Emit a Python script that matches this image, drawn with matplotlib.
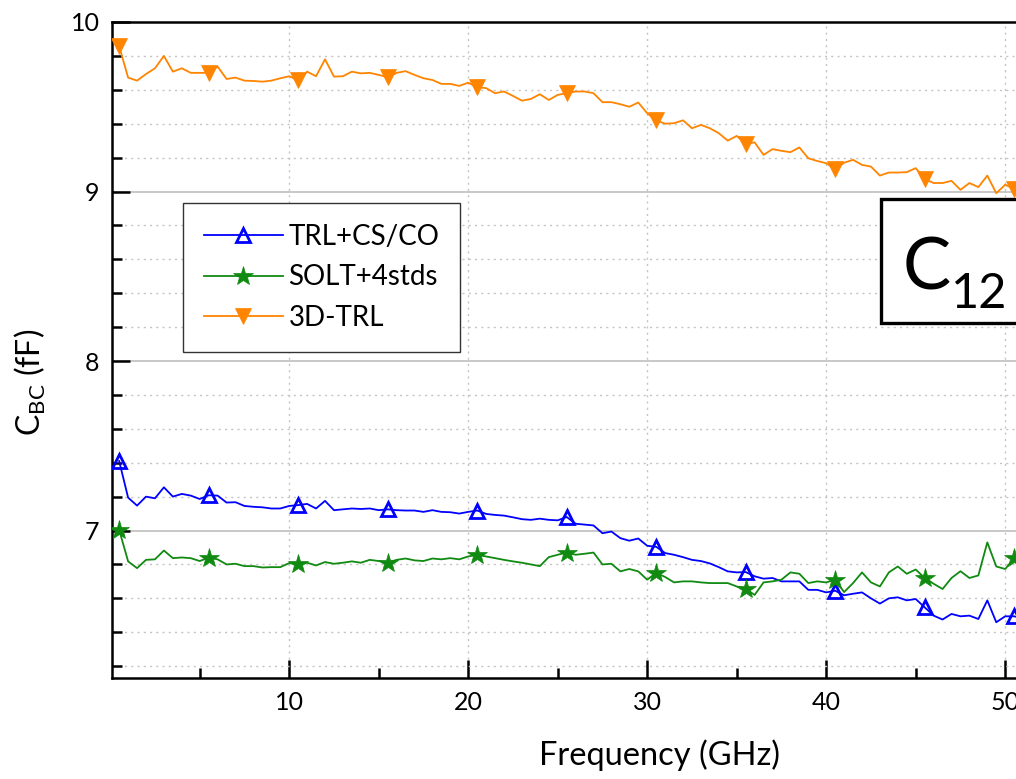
"""C_BC vs frequency for three calibration methods (C12 panel)."""

import matplotlib

matplotlib.use("Agg")
import matplotlib.pyplot as plt
import numpy as np
from matplotlib.patches import Rectangle
from matplotlib.ticker import MultipleLocator

TEXT = "#000000"
GRID = "#C4C4C4"
BLUE = "#0000FF"
GREEN = "#108A10"
ORANGE = "#FF8400"

# sweep from 0.5 GHz in 0.5 GHz steps
freq_ghz = np.arange(0.5, 51.01, 0.5)

trl_cs_co = [
    7.41, 7.194, 7.147, 7.20, 7.19, 7.255, 7.20, 7.216, 7.206, 7.186,
    7.208, 7.206, 7.165, 7.167, 7.145, 7.14, 7.137, 7.13, 7.13, 7.145,
    7.15, 7.157, 7.13, 7.175, 7.12, 7.125, 7.13, 7.127, 7.13, 7.12,
    7.125, 7.12, 7.118, 7.118, 7.11, 7.12, 7.11, 7.108, 7.10, 7.11,
    7.118, 7.098, 7.092, 7.088, 7.078, 7.067, 7.063, 7.07, 7.063, 7.06,
    7.08, 7.04, 7.035, 7.03, 6.984, 6.994, 6.955, 6.94, 6.953, 6.91,
    6.904, 6.867, 6.857, 6.843, 6.827, 6.82, 6.806, 6.784, 6.759, 6.753,
    6.755, 6.73, 6.716, 6.72, 6.70, 6.70, 6.70, 6.65, 6.65, 6.635,
    6.645, 6.618, 6.627, 6.635, 6.60, 6.569, 6.60, 6.606, 6.588, 6.596,
    6.547, 6.498, 6.475, 6.508, 6.494, 6.498, 6.478, 6.588, 6.459, 6.494,
    6.494, 6.48,
]

solt_4stds = [
    7.004, 6.818, 6.778, 6.827, 6.83, 6.882, 6.837, 6.841, 6.837, 6.82,
    6.84, 6.83, 6.80, 6.804, 6.79, 6.79, 6.782, 6.784, 6.784, 6.808,
    6.80, 6.81, 6.794, 6.814, 6.804, 6.81, 6.818, 6.81, 6.827, 6.82,
    6.81, 6.827, 6.835, 6.824, 6.82, 6.835, 6.83, 6.837, 6.83, 6.847,
    6.857, 6.847, 6.837, 6.827, 6.818, 6.81, 6.80, 6.79, 6.843, 6.857,
    6.87, 6.857, 6.863, 6.87, 6.80, 6.804, 6.759, 6.773, 6.759, 6.71,
    6.75, 6.726, 6.694, 6.70, 6.70, 6.694, 6.69, 6.69, 6.69, 6.67,
    6.655, 6.62, 6.694, 6.70, 6.71, 6.753, 6.745, 6.69, 6.70, 6.694,
    6.71, 6.637, 6.69, 6.753, 6.694, 6.67, 6.753, 6.788, 6.745, 6.77,
    6.72, 6.686, 6.655, 6.72, 6.76, 6.72, 6.735, 6.93, 6.788, 6.773,
    6.837, 6.82,
]

trl_3d = [
    9.857, 9.672, 9.654, 9.693, 9.727, 9.80, 9.707, 9.727, 9.70, 9.70,
    9.70, 9.737, 9.664, 9.672, 9.654, 9.652, 9.648, 9.654, 9.668, 9.68,
    9.656, 9.707, 9.68, 9.78, 9.678, 9.68, 9.707, 9.697, 9.70, 9.688,
    9.674, 9.70, 9.71, 9.688, 9.668, 9.658, 9.635, 9.635, 9.623, 9.642,
    9.615, 9.61, 9.58, 9.59, 9.564, 9.536, 9.546, 9.574, 9.54, 9.57,
    9.58, 9.59, 9.59, 9.58, 9.527, 9.527, 9.515, 9.50, 9.525, 9.462,
    9.42, 9.40, 9.403, 9.42, 9.373, 9.393, 9.373, 9.344, 9.30, 9.328,
    9.28, 9.29, 9.216, 9.25, 9.24, 9.232, 9.26, 9.196, 9.18, 9.167,
    9.13, 9.17, 9.187, 9.157, 9.147, 9.094, 9.112, 9.112, 9.114, 9.138,
    9.075, 9.05, 9.05, 9.063, 9.01, 9.05, 9.026, 9.094, 8.99, 9.04,
    9.015, 9.0,
]

SERIES = [
    ("TRL+CS/CO", trl_cs_co, BLUE, "^", dict(markersize=10, markerfacecolor="none", markeredgewidth=2.0)),
    ("SOLT+4stds", solt_4stds, GREEN, "*", dict(markersize=15, markeredgewidth=0.5)),
    ("3D-TRL", trl_3d, ORANGE, "v", dict(markersize=12, markeredgewidth=0.5)),
]


def main() -> None:
    plt.rcParams.update(
        {
            "font.family": ["Lato", "DejaVu Sans"],
            "axes.labelcolor": TEXT,
            "xtick.color": TEXT,
            "ytick.color": TEXT,
        }
    )
    W, H = 1016, 779
    fig = plt.figure(figsize=(W / 100, H / 100), dpi=100)
    # axes run past the right edge of the picture (cropped panel)
    x_min, x_max = 0.1, 61.3
    ax_w_px = (x_max - x_min) * 17.9
    ax = fig.add_axes([112 / W, 1 - 678 / H, ax_w_px / W, (678 - 22) / H])

    for label, vals, color, marker, mstyle in SERIES:
        ax.plot(
            freq_ghz, vals, color=color, linewidth=1.3, marker=marker,
            markevery=10, markeredgecolor=color,
            **({"markerfacecolor": color} | mstyle), label=label, zorder=3,
        )

    ax.set_xlim(x_min, x_max)
    ax.set_ylim(6.13, 10.0)
    ax.xaxis.set_major_locator(MultipleLocator(10))
    ax.xaxis.set_minor_locator(MultipleLocator(5))
    ax.yaxis.set_major_locator(MultipleLocator(1))
    ax.yaxis.set_minor_locator(MultipleLocator(0.2))

    ax.tick_params(which="both", direction="in", width=1.8, top=False, right=False)
    ax.tick_params(which="major", length=13, labelsize=18, pad=9)
    ax.tick_params(which="minor", length=7)

    ax.grid(axis="y", which="major", color=GRID, linewidth=1.3, linestyle="-", zorder=0)
    ax.grid(axis="y", which="minor", color=GRID, linewidth=1.0, linestyle=(0, (1.5, 3)), zorder=0)
    ax.grid(axis="x", which="major", color=GRID, linewidth=1.0, linestyle=(0, (1.5, 3)), zorder=0)
    ax.set_axisbelow(True)
    for side in ax.spines.values():
        side.set_linewidth(1.8)
        side.set_color(TEXT)

    ax.set_xlabel("Frequency (GHz)", fontsize=23.5, labelpad=19)
    ax.set_ylabel(r"C$_{\mathregular{BC}}$ (fF)", fontsize=23)
    ax.yaxis.set_label_coords((48 - 112) / ax_w_px, 0.45)

    leg = ax.legend(
        loc="upper left", bbox_to_anchor=(183 / W, 1 - 203 / H),
        bbox_transform=fig.transFigure, borderaxespad=0, fontsize=20,
        frameon=True, fancybox=False, framealpha=1, edgecolor="#333333",
        handlelength=2.85, handletextpad=0.2, labelspacing=0.52,
        borderpad=0.75,
    )
    leg.get_frame().set_linewidth(1.0)

    box = Rectangle(
        (881 / W, 1 - 323 / H), 200 / W, 124 / H, transform=fig.transFigure,
        facecolor="white", edgecolor=TEXT, linewidth=2.4, zorder=5,
    )
    fig.add_artist(box)
    fig.text(903 / W, 1 - 290 / H, "C", fontsize=52, ha="left",
             va="baseline", zorder=6)
    fig.text(951 / W, 1 - 308 / H, "12", fontsize=35, ha="left",
             va="baseline", zorder=6)

    fig.savefig("out.png", dpi=100)


if __name__ == "__main__":
    main()
